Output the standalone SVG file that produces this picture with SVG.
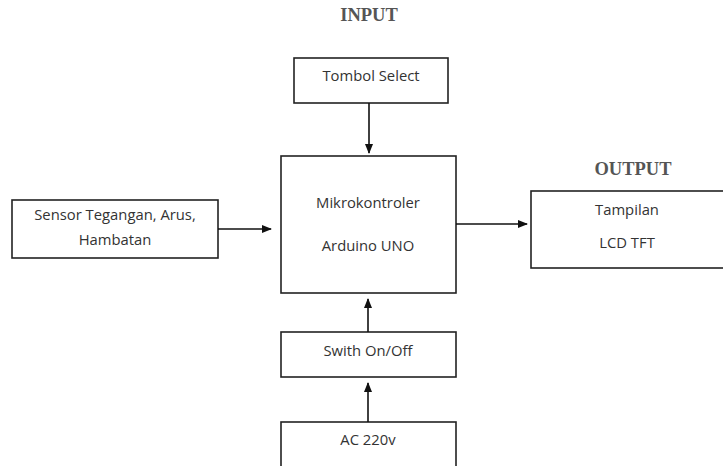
<svg xmlns="http://www.w3.org/2000/svg" width="723" height="466" viewBox="0 0 723 466">
<defs>
<marker id="ah" markerWidth="10" markerHeight="8" refX="9" refY="4" orient="auto" markerUnits="userSpaceOnUse">
<path d="M0,0 L10,4 L0,8 Z" fill="#111"/>
</marker>
<style>
.box{fill:#fff;stroke:#222;stroke-width:1.6}
.t{font-family:"Open Sans","Liberation Sans",sans-serif;font-size:14.8px;fill:#333;text-anchor:middle}
.h{font-family:"Liberation Serif",serif;font-size:18.5px;font-weight:bold;fill:#555;text-anchor:middle}
.c{stroke:#111;stroke-width:1.6;fill:none;marker-end:url(#ah)}
</style>
</defs>
<rect width="723" height="466" fill="#fff"/>
<text class="h" x="369" y="21">INPUT</text>
<text class="h" x="633" y="175">OUTPUT</text>
<g id="tombol"><rect class="box" x="294" y="58" width="154" height="45"/><text class="t" x="371" y="81">Tombol Select</text></g>
<g id="mikro"><rect class="box" x="281" y="156" width="175" height="137"/><text class="t" x="368" y="208">Mikrokontroler</text><text class="t" x="368" y="251">Arduino UNO</text></g>
<g id="sensor"><rect class="box" x="12" y="200" width="206" height="58"/><text class="t" x="115" y="220">Sensor Tegangan, Arus,</text><text class="t" x="115" y="245">Hambatan</text></g>
<g id="output"><rect class="box" x="531" y="191" width="200" height="77"/><text class="t" x="627" y="215">Tampilan</text><text class="t" x="627" y="248">LCD TFT</text></g>
<g id="switch"><rect class="box" x="281" y="332" width="175" height="45"/><text class="t" x="368" y="356">Swith On/Off</text></g>
<g id="ac"><rect class="box" x="281" y="422" width="175" height="50"/><text class="t" x="368" y="445">AC 220v</text></g>
<g id="connectors">
<line class="c" x1="369" y1="103" x2="369" y2="153"/>
<line class="c" x1="218" y1="229" x2="271" y2="229"/>
<line class="c" x1="456" y1="224" x2="527" y2="224"/>
<line class="c" x1="368" y1="332" x2="368" y2="299"/>
<line class="c" x1="368" y1="422" x2="368" y2="383"/>
</g>
</svg>
